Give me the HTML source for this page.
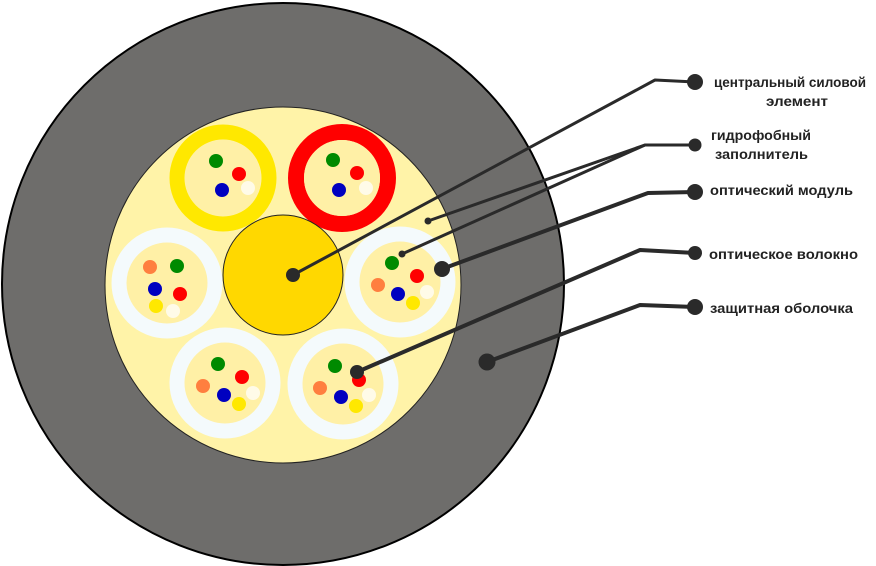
<!DOCTYPE html>
<html><head><meta charset="utf-8"><style>
html,body{margin:0;padding:0;background:#fff;width:876px;height:566px;overflow:hidden}
svg{display:block}
text{font-family:"Liberation Sans","DejaVu Sans",sans-serif;font-size:14px;fill:#222;font-weight:bold}
</style></head><body>
<svg width="876" height="566" viewBox="0 0 876 566">
<circle cx="283" cy="284" r="281" fill="#6e6d6b" stroke="#000" stroke-width="2"/>
<circle cx="283" cy="285" r="178" fill="#fff3a8" stroke="#222" stroke-width="1"/>
<circle cx="223" cy="178" r="46" fill="none" stroke="#ffe800" stroke-width="15"/>
<circle cx="223" cy="178" r="38" fill="#fff0a6"/>
<circle cx="342" cy="178" r="46" fill="none" stroke="#f00" stroke-width="16"/>
<circle cx="342" cy="178" r="38" fill="#fff0a6"/>
<g fill="#fff0a6" stroke="#f4fafc" stroke-width="15">
<circle cx="167" cy="283" r="48"/>
<circle cx="400" cy="282" r="48"/>
<circle cx="225" cy="383" r="48"/>
<circle cx="343" cy="384" r="48"/>
</g>
<circle cx="283" cy="275" r="60" fill="#ffd800" stroke="#222" stroke-width="1"/>
<g>
<circle cx="216" cy="161" r="7" fill="#008a00"/><circle cx="239" cy="174" r="7" fill="#f00"/><circle cx="222" cy="190" r="7" fill="#0000c0"/><circle cx="248" cy="188" r="7" fill="#fffbe8"/>
<circle cx="333" cy="160" r="7" fill="#008a00"/><circle cx="357" cy="173" r="7" fill="#f00"/><circle cx="339" cy="190" r="7" fill="#0000c0"/><circle cx="366" cy="188" r="7" fill="#fffbe8"/>
<circle cx="150" cy="267" r="7" fill="#ff7f3f"/><circle cx="177" cy="266" r="7" fill="#008a00"/><circle cx="155" cy="289" r="7" fill="#0000c0"/><circle cx="180" cy="294" r="7" fill="#f00"/><circle cx="156" cy="306" r="7" fill="#ffe800"/><circle cx="173" cy="311" r="7" fill="#fffbe8"/>
<circle cx="392" cy="263" r="7" fill="#008a00"/><circle cx="417" cy="276" r="7" fill="#f00"/><circle cx="378" cy="285" r="7" fill="#ff7f3f"/><circle cx="398" cy="294" r="7" fill="#0000c0"/><circle cx="427" cy="292" r="7" fill="#fffbe8"/><circle cx="413" cy="303" r="7" fill="#ffe800"/>
<circle cx="218" cy="364" r="7" fill="#008a00"/><circle cx="242" cy="377" r="7" fill="#f00"/><circle cx="203" cy="386" r="7" fill="#ff7f3f"/><circle cx="224" cy="395" r="7" fill="#0000c0"/><circle cx="253" cy="393" r="7" fill="#fffbe8"/><circle cx="239" cy="404" r="7" fill="#ffe800"/>
<circle cx="335" cy="366" r="7" fill="#008a00"/><circle cx="359" cy="380" r="7" fill="#f00"/><circle cx="320" cy="388" r="7" fill="#ff7f3f"/><circle cx="341" cy="397" r="7" fill="#0000c0"/><circle cx="369" cy="395" r="7" fill="#fffbe8"/><circle cx="356" cy="406" r="7" fill="#ffe800"/>
</g>
<g fill="none" stroke="#2a2a2a" stroke-linejoin="round">
<polyline points="293,275 655,80 695,82" stroke-width="3"/>
<polyline points="428,221 645,145 695,145" stroke-width="3"/>
<polyline points="402,254 645,145" stroke-width="3"/>
<polyline points="442,269 648,193 695,192" stroke-width="4"/>
<polyline points="357,372 640,250 695,253" stroke-width="4"/>
<polyline points="487,362 640,305 695,307" stroke-width="4"/>
</g>
<g fill="#2a2a2a">
<circle cx="293" cy="275" r="7"/><circle cx="695" cy="82" r="8"/>
<circle cx="428" cy="221" r="3.5"/><circle cx="402" cy="254" r="3.5"/><circle cx="695" cy="145" r="6.5"/>
<circle cx="442" cy="269" r="8"/><circle cx="695" cy="192" r="8"/>
<circle cx="357" cy="372" r="7"/><circle cx="695" cy="253" r="7"/>
<circle cx="487" cy="362" r="8.5"/><circle cx="695" cy="307" r="8"/>
</g>
<text x="714" y="87" textLength="152" lengthAdjust="spacingAndGlyphs">центральный силовой</text>
<text x="766" y="106" textLength="62" lengthAdjust="spacingAndGlyphs">элемент</text>
<text x="711" y="140" textLength="100" lengthAdjust="spacingAndGlyphs">гидрофобный</text>
<text x="715" y="159" textLength="93" lengthAdjust="spacingAndGlyphs">заполнитель</text>
<text x="710" y="195" textLength="143" lengthAdjust="spacingAndGlyphs">оптический модуль</text>
<text x="709" y="259" textLength="149" lengthAdjust="spacingAndGlyphs">оптическое волокно</text>
<text x="710" y="313" textLength="143" lengthAdjust="spacingAndGlyphs">защитная оболочка</text>
</svg>
</body></html>
